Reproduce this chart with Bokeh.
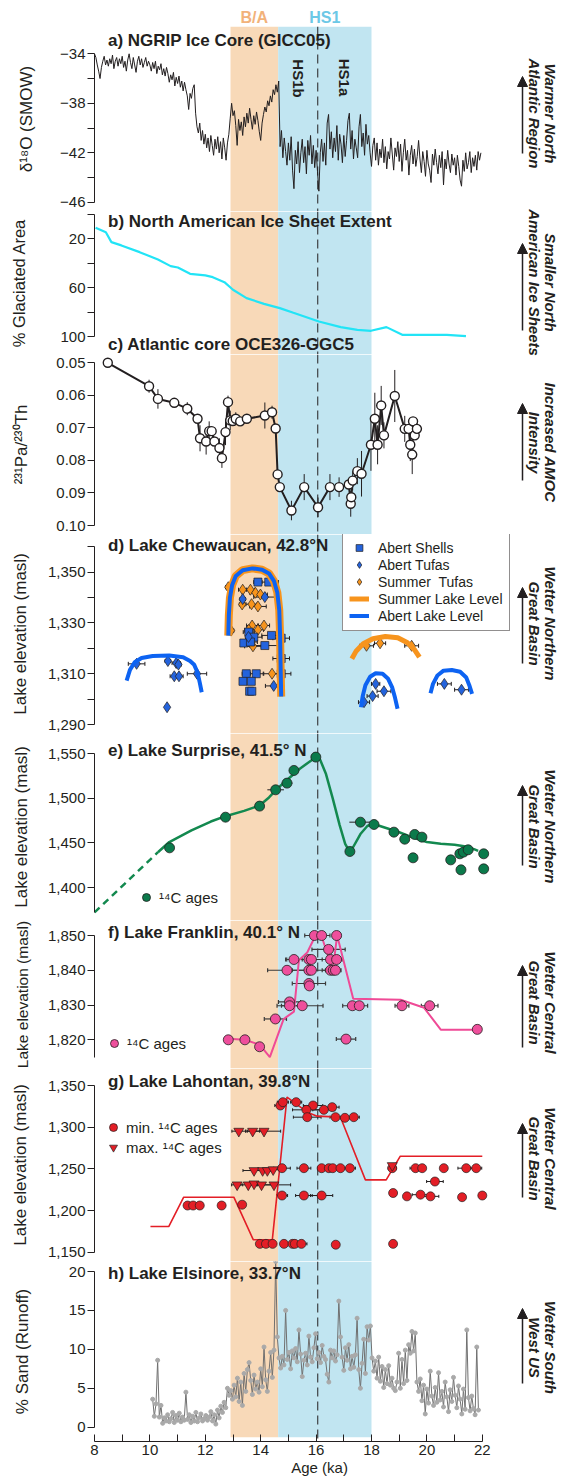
import math
from bokeh.plotting import figure
from bokeh.models import (Range1d, FixedTicker, NumeralTickFormatter, BoxAnnotation, Span,
                          Whisker, TeeHead, ColumnDataSource, Legend, LegendItem, Arrow, NormalHead)
from bokeh.layouts import column, row
from bokeh.embed import file_html
from bokeh.resources import INLINE
from bokeh.core.properties import value

# ======================= DATA =======================
BA_START, BA_END = 12.91, 14.63
HS1_START, HS1_END = 14.63, 18.0
HS1_SPLIT = 16.06

# a) NGRIP d18O, regular 0.05 ka sampling from 8.0 ka
ngrip_start, ngrip_step = 8.0, 0.05
ngrip_d18o = [
    -34.0, -34.3, -34.9, -35.4, -36.0, -35.1, -34.6, -34.2, -34.9, -34.5,
    -35.0, -34.4, -34.8, -34.1, -35.2, -34.6, -34.3, -35.0, -34.4, -34.8,
    -34.2, -35.1, -34.6, -35.4, -34.5, -34.0, -34.7, -35.2, -34.3, -34.9,
    -35.5, -34.6, -34.2, -34.9, -34.4, -35.1, -34.7, -34.3, -35.0, -34.6,
    -34.9, -35.4, -34.7, -35.2, -34.6, -35.6, -35.0, -35.3, -34.8, -35.7,
    -35.2, -35.8, -35.1, -35.6, -36.3, -35.7, -36.1, -35.5, -36.6, -35.9,
    -36.4, -35.8, -36.7, -36.2, -37.0, -36.3, -36.9, -37.4, -38.5, -37.2,
    -37.6, -36.8, -36.5, -38.8, -39.9, -40.4, -39.6, -41.0, -40.2, -41.3,
    -40.5, -41.6, -40.8, -41.9, -40.6, -41.4, -42.2, -40.9, -41.7, -40.7,
    -42.0, -41.1, -42.5, -40.8, -41.6, -42.6, -41.2, -40.5, -39.2, -38.0,
    -39.0, -38.6, -39.8, -41.4, -39.3, -40.2, -39.5, -40.6, -39.1, -39.9,
    -38.8, -39.6, -38.4, -39.3, -40.1, -39.0, -39.7, -38.7, -39.4, -40.3,
    -41.0, -39.6, -38.9, -38.3, -38.7, -37.8, -38.2, -37.4, -37.9, -36.9,
    -37.3, -36.5, -37.1, -36.2, -41.5, -40.2, -42.4, -40.8, -41.9, -43.0,
    -41.2, -42.6, -40.7, -43.4, -44.9, -41.8, -42.9, -41.1, -43.6, -42.0,
    -40.9, -42.8, -41.5, -43.7, -41.0, -42.2, -40.6, -42.9, -41.4, -43.2,
    -41.8, -43.5, -45.1, -42.0, -40.9, -42.7, -41.2, -43.0, -39.6, -38.9,
    -41.7, -40.3, -42.4, -40.8, -41.9, -39.8, -42.6, -40.5, -41.3, -42.8,
    -40.6, -42.3, -41.0, -39.4, -38.8, -41.7, -40.2, -42.5, -40.9, -41.6,
    -42.4, -39.9, -38.9, -41.5, -40.4, -42.2, -39.7, -41.3, -40.6, -42.0,
    -43.1, -41.4, -40.8, -42.6, -41.2, -43.0, -41.7, -42.4, -40.9, -42.8,
    -41.5, -43.3, -41.9, -42.5, -40.8, -42.1, -43.4, -41.6, -42.3, -41.1,
    -42.7, -41.3, -43.5, -42.0, -40.9, -42.6, -41.8, -43.8, -42.2, -41.4,
    -42.9, -41.7, -43.1, -42.3, -41.0, -42.5, -43.6, -41.9, -42.7, -43.9,
    -41.8, -42.9, -43.4, -44.4, -42.1, -43.0, -41.7, -42.8, -43.7, -42.2,
    -43.2, -41.9, -44.6, -42.5, -43.3, -41.8, -42.9, -43.6, -42.1, -43.0,
    -42.4, -43.8, -42.2, -43.1, -44.2, -44.7, -42.6, -43.5, -42.0, -43.3,
    -42.8, -41.9, -43.6, -42.4, -43.1, -42.2, -43.4, -41.9, -42.6, -42.0]

# b) North American ice sheet extent (% glaciated area)
ice_age = [8.04, 8.41, 8.61, 8.97, 9.63, 10.29, 10.75, 11.01, 11.45, 12.0, 12.27, 12.69, 13.0,
           13.49, 14.12, 14.69, 15.18, 16.1, 16.89, 17.49, 17.98, 18.54, 19.11, 20.06, 20.72, 21.41]
ice_area = [11.0, 14.6, 22.7, 25.4, 30.9, 36.9, 42.3, 43.4, 48.6, 49.9, 51.3, 55.4, 61.6,
            68.4, 73.1, 76.6, 80.4, 87.5, 92.1, 94.3, 95.1, 92.1, 98.4, 98.4, 98.4, 99.5]

# c) 231Pa/230Th, OCE326-GGC5
pa_age = [8.48, 9.97, 10.29, 10.88, 11.35, 11.72, 11.81, 12.03, 12.14, 12.23, 12.33, 12.51, 12.6,
          12.73, 12.82, 12.9, 12.99, 13.1, 13.26, 13.5, 14.15, 14.41, 14.54, 14.61, 14.69, 15.11,
          15.57, 16.07, 16.5, 16.83, 17.18, 17.25, 17.27, 17.32, 17.49, 17.64, 17.98, 18.12, 18.22,
          18.35, 18.45, 18.84, 19.2, 19.34, 19.4, 19.47, 19.5, 19.56, 19.64]
pa_ratio = [0.0500, 0.0572, 0.0611, 0.0623, 0.0641, 0.0672, 0.0732, 0.0742, 0.0710, 0.0710, 0.0742,
            0.0762, 0.0793, 0.0713, 0.0621, 0.0677, 0.0679, 0.0672, 0.0680, 0.0672, 0.0662, 0.0652,
            0.0702, 0.0843, 0.0882, 0.0954, 0.0882, 0.0944, 0.0882, 0.0882, 0.0874, 0.0933, 0.0913,
            0.0862, 0.0833, 0.0841, 0.0752, 0.0672, 0.0752, 0.0631, 0.0723, 0.0602, 0.0703, 0.0703,
            0.0752, 0.0782, 0.0680, 0.0723, 0.0703]
pa_err = [0, 0.002, 0.003, 0, 0.002, 0, 0.004, 0.004, 0.003, 0, 0, 0.003, 0.003, 0.004, 0.002, 0.003,
          0, 0.002, 0, 0, 0.004, 0.002, 0, 0, 0, 0.003, 0.004, 0.003, 0.004, 0.003, 0, 0.004, 0,
          0.003, 0.004, 0.007, 0.008, 0.008, 0.006, 0.006, 0.004, 0.008, 0.004, 0, 0.005, 0.006, 0,
          0, 0.003]

# d) Lake Chewaucan
shell_age = [13.9, 14.29, 13.57, 13.75, 14.39, 13.39, 13.63, 14.15, 13.48, 13.84, 13.36, 13.66,
             13.6, 13.68, 14.74, 14.74, 14.74]
shell_elev = [1346.1, 1346.1, 1326.4, 1324.4, 1325.1, 1322.1, 1322.5, 1321.1, 1310, 1310, 1307,
              1307, 1303.1, 1303.1, 1316, 1324, 1310]
shell_err = [0.15, 0.35, 0.2, 0.3, 0.35, 0.1, 0.25, 0.55, 0.15, 0.25, 0.1, 0.1, 0.1, 0.1, 0.3, 0.3, 0.35]

abert_tufa_age = [9.52, 10.65, 10.95, 11.03, 10.88, 11.05, 11.7, 10.62, 13.35, 14.15, 13.56, 14.47,
                  17.73, 18.04, 18.15, 18.45, 20.63, 21.25]
abert_tufa_elev = [1313.9, 1315, 1314.2, 1313.6, 1309, 1309, 1310, 1296.8, 1339.4, 1340.2, 1324.5,
                   1305.2, 1298.8, 1301.2, 1306, 1303.1, 1306, 1303.7]
abert_tufa_err = [0.3, 0.1, 0.15, 0.1, 0.15, 0.15, 0.35, 0, 0.1, 0.4, 0.1, 0.3, 0.2, 0.2, 0.15, 0.25,
                  0.25, 0.25]

summer_tufa_age = [12.83, 13.35, 13.63, 13.81, 13.99, 13.33, 13.67, 13.9, 13.69, 14.12, 13.9, 12.93,
                   13.57, 13.72, 14.41, 17.82, 18.31, 19.45]
summer_tufa_elev = [1344.1, 1343.1, 1343.1, 1341.9, 1341.2, 1337.3, 1337.4, 1336.5, 1329, 1329,
                    1327.3, 1327, 1327.3, 1320.8, 1310, 1321, 1322, 1321]
summer_tufa_err = [0.1, 0.15, 0.15, 0.2, 0.25, 0.1, 0.2, 0.3, 0.2, 0.2, 0.2, 0.1, 0.15, 0.3, 0.3,
                   0.25, 0.2, 0.25]

abert_level_age = [
    [9.16, 9.28, 9.45, 9.7, 10.1, 10.7, 11.2, 11.45, 11.6, 11.72, 11.8, 11.87],
    [12.83, 12.85, 12.89, 12.97, 13.1, 13.35, 13.7, 14.05, 14.3, 14.48, 14.6, 14.67, 14.7, 14.72, 14.74],
    [17.62, 17.68, 17.78, 17.95, 18.15, 18.4, 18.6, 18.75, 18.85, 18.94],
    [20.13, 20.22, 20.38, 20.6, 20.9, 21.2, 21.42, 21.53, 21.63]]
abert_level_elev = [
    [1307.3, 1311.5, 1314.5, 1316.2, 1317, 1317.2, 1316.5, 1315, 1313.5, 1310.5, 1306.5, 1302.7],
    [1325, 1333, 1340, 1345, 1348.5, 1350.8, 1351.5, 1351, 1349.5, 1346.5, 1342, 1335, 1325, 1312, 1301],
    [1296.8, 1301, 1305.5, 1308.8, 1310.2, 1310, 1308, 1304.5, 1300.5, 1296.2],
    [1302.3, 1306, 1309.3, 1311.2, 1311.5, 1310.8, 1308.5, 1305.5, 1302.1]]

summer_level_age = [
    [12.83, 12.85, 12.89, 12.97, 13.1, 13.35, 13.7, 14.05, 14.3, 14.48, 14.6, 14.67, 14.7, 14.72, 14.74],
    [17.29, 17.45, 17.7, 18.05, 18.5, 18.95, 19.3, 19.55, 19.73]]
summer_level_elev = [
    [1325, 1333, 1340, 1345, 1348.5, 1350.8, 1351.5, 1351, 1349.5, 1346.5, 1342, 1335, 1325, 1312, 1301],
    [1315.9, 1319, 1321.8, 1323.8, 1324.7, 1324.2, 1322.2, 1319.5, 1316.5]]

# e) Lake Surprise
surprise_age = [10.71, 12.73, 13.96, 14.54, 14.95, 15.2, 15.99, 17.22, 17.6, 18.09, 18.81, 19.2,
                19.56, 19.82, 19.5, 20.86, 21.19, 21.32, 21.49, 21.23, 22.05, 22.05]
surprise_elev = [1444.5, 1478.9, 1491.3, 1509.6, 1517.1, 1531.3, 1546.3, 1440.4, 1473.3, 1470.7,
                 1462.1, 1454.2, 1459.5, 1456.5, 1433.3, 1431, 1437.8, 1439.7, 1442.3, 1419.8,
                 1437.8, 1420.9]
surprise_err = [0, 0, 0, 0.3, 0.2, 0.1, 0, 0, 0.4, 0, 0, 0.15, 0.1, 0, 0.15, 0.15, 0.1, 0, 0.2, 0, 0, 0]
surprise_line_age = [10.29, 10.7, 11.5, 12.2, 12.73, 13.4, 13.96, 14.3, 14.6, 15.0, 15.4, 15.8, 16.0,
                     16.15, 16.35, 16.6, 16.85, 17.05, 17.2, 17.35, 17.6, 17.85, 18.05, 18.5, 19.0,
                     19.5, 20.0, 20.5, 21.0, 21.4, 21.7, 21.85]
surprise_line_elev = [1439.6, 1451, 1464, 1474, 1480, 1486, 1492, 1501, 1511, 1522, 1533, 1542,
                      1546.5, 1543, 1528, 1500, 1470, 1449, 1440.5, 1446, 1460, 1469, 1471.5, 1467,
                      1462, 1456, 1451, 1449, 1448, 1446, 1443, 1441]
surprise_dash_age = [8.0, 10.29]
surprise_dash_elev = [1372, 1439.6]

# f) Lake Franklin
franklin_age = [15.94, 16.2, 16.74, 16.45, 15.2, 15.74, 15.83, 16.52, 16.74, 14.95, 15.74, 15.83,
                16.52, 16.62, 16.7, 15.74, 15.76, 15.04, 15.04, 15.5, 17.31, 17.56, 19.1, 20.1,
                14.53, 12.83, 13.43, 13.96, 17.08, 21.82]
franklin_elev = [1850, 1850, 1850, 1846, 1843.1, 1843.1, 1843.1, 1843.1, 1843.1, 1840, 1840, 1840,
                 1840, 1840, 1840, 1836.2, 1835.5, 1830.9, 1829.8, 1829.8, 1829.8, 1829.8, 1829.8,
                 1829.8, 1826, 1820, 1820, 1818, 1820.2, 1823]
franklin_err = [0.35, 0.3, 0.15, 0.6, 0.3, 0.8, 0, 0.3, 0.2, 0.7, 0.6, 0, 0.3, 0, 0.2, 0.6, 0, 0.4,
                0.45, 0.75, 0.35, 0.3, 0.25, 0.3, 0.4, 0, 0, 0, 0.35, 0]
franklin_line_age = [12.83, 13.43, 13.96, 14.33, 14.83, 15.2, 15.38, 15.68, 15.98, 16.19, 16.6,
                     16.76, 17.34, 19.05, 19.9, 20.5, 21.82]
franklin_line_elev = [1820.3, 1820, 1818.6, 1815, 1826, 1828.1, 1842.9, 1845.1, 1850, 1850, 1840,
                      1850, 1831.8, 1831.5, 1829.2, 1822.9, 1822.9]

# g) Lake Lahontan
lah_min_age = [14.71, 14.8, 15.28, 15.89, 16.58, 16.28, 15.65, 15.68, 16.7, 17.04, 17.36,
               14.77, 15.56, 16.2, 16.46, 16.6, 16.88, 17.22, 18.75, 19.59, 19.83, 20.61, 21.42, 21.78,
               20.29, 14.77, 15.56, 16.2, 18.78, 19.28, 19.77, 20.13, 21.27, 22.0,
               11.36, 11.56, 11.8, 12.59, 13.33,
               13.97, 14.19, 14.43, 14.84, 15.15, 15.23, 15.47, 16.71, 18.78]
lah_min_elev = [1326, 1330, 1330, 1326, 1324, 1320.8, 1320.8, 1312, 1312, 1311.2, 1312,
                1250.8, 1250.8, 1250.8, 1250.8, 1250.8, 1250.8, 1250.8, 1250.8, 1250.8, 1250.8,
                1250.8, 1250.8, 1250.8,
                1234.8, 1218, 1218, 1218, 1221, 1217, 1219, 1217, 1216, 1218,
                1206, 1206, 1206, 1206, 1207,
                1160, 1160, 1160, 1160, 1160, 1160, 1160, 1159, 1160]
lah_min_err = [0.2, 0.2, 0.2, 0.35, 0.25, 0.4, 0.5, 0.5, 0.2, 0.15, 0.2,
               0.3, 0.25, 0.15, 0.1, 0.1, 0.1, 0.2, 0.15, 0.2, 0.1, 0.1, 0.3, 0.2,
               0.3, 0.2, 0.3, 0.4, 0, 0, 0.3, 0.3, 0.1, 0,
               0, 0, 0, 0, 0,
               0, 0, 0, 0, 0, 0, 0.2, 0.1, 0.1]
lah_max_age = [13.21, 13.71, 14.12, 13.76, 14.07, 14.24, 14.45, 18.75, 13.15, 13.55, 13.76, 14.03, 14.48]
lah_max_elev = [1295.2, 1295.2, 1295.2, 1248, 1248, 1248, 1249, 1254, 1230.8, 1230.8, 1232, 1230.8, 1230.8]
lah_max_err = [0.25, 0.25, 0.6, 0.4, 0.3, 0.2, 0.2, 0, 0.2, 0.3, 0.2, 0.5, 0.6]
lah_line_age = [10.02, 10.68, 11.22, 13.03, 13.73, 14.42, 14.95, 15.68, 16.04, 16.88, 17.78, 18.53,
                19.04, 22.0]
lah_line_elev = [1180.8, 1180.8, 1216, 1216, 1165, 1165, 1336, 1318, 1313.2, 1312, 1236.8, 1236.8,
                 1265.2, 1265.2]

# h) Lake Elsinore % sand, regular 0.06 ka sampling from 10.10 ka
sand_start, sand_step = 10.10, 0.06
sand_pct = [
    3.6, 1.4, 3.0, 8.6, 1.3, 2.8, 0.5, 1.2, 0.8, 1.6,
    0.7, 1.1, 1.9, 0.6, 1.5, 0.9, 1.8, 0.7, 1.3, 0.9,
    4.5, 1.0, 1.6, 0.6, 1.4, 0.8, 1.9, 0.7, 1.2, 1.7,
    0.8, 1.1, 1.5, 0.9, 1.3, 2.0, 0.8, 1.6, 0.4, 2.2,
    1.2, 2.7, 1.9, 3.2, 2.5, 5.0, 4.1, 4.7, 3.6, 5.4,
    3.9, 6.3, 3.3, 5.8, 2.8, 6.9, 4.6, 7.4, 8.3, 6.0,
    4.2, 6.7, 4.9, 5.8, 4.5, 7.5, 5.2, 10.3, 6.1, 4.6,
    7.2, 9.6, 6.4, 9.9, 21.3, 11.6, 8.9, 7.6, 9.1, 8.0,
    15.0, 8.7, 9.6, 7.5, 9.8, 8.9, 10.1, 8.4, 12.5, 9.4,
    6.5, 8.6, 9.5, 8.0, 11.7, 9.0, 8.4, 10.2, 12.0, 8.8,
    9.6, 8.3, 10.5, 9.1, 8.7, 6.8, 5.8, 9.9, 8.9, 9.8,
    8.5, 9.3, 16.2, 11.6, 9.0, 7.3, 10.2, 8.6, 10.6, 7.5,
    9.1, 7.7, 9.3, 14.0, 7.4, 5.0, 8.2, 11.3, 6.9, 12.9,
    11.2, 13.0, 8.9, 7.2, 8.5, 6.3, 9.0, 5.9, 7.8, 5.1,
    7.4, 5.6, 7.9, 5.4, 6.3, 5.0, 4.7, 5.8, 9.5, 5.0,
    8.7, 5.6, 9.9, 6.0, 10.6, 9.5, 12.3, 9.8, 12.1, 5.8,
    4.6, 6.2, 3.4, 5.4, 1.7, 4.9, 3.1, 7.2, 4.0, 2.8,
    5.1, 3.2, 7.0, 3.5, 4.6, 2.6, 5.8, 3.9, 2.0, 4.8,
    3.3, 6.4, 4.1, 2.5, 5.3, 3.6, 1.7, 4.9, 2.3, 12.5,
    3.8, 2.1, 4.0, 2.4, 1.6, 10.3, 2.2]

x_major_ticks = [8, 10, 12, 14, 16, 18, 20, 22]
x_minor_ticks = [9, 11, 13, 15, 17, 19, 21]

right_line1 = ["Warmer North", "Smaller North", "Increased AMOC", "Wetter Northern",
               "Wetter Northern", "Wetter Central", "Wetter Central", "Wetter South"]
right_line2 = ["Atlantic Region", "American Ice Sheets", "Intensity", "Great Basin",
               "Great Basin", "Great Basin", "Great Basin", "West US"]

# ======================= STYLE / LAYOUT =======================
FONT = "Liberation Sans"
INK = "#231f20"
BA_FILL = "#f8d9b8"
HS1_FILL = "#c1e5f1"
BLUE_PT = "#2463dc"
BLUE_LINE = "#0d63f2"
ORANGE = "#f7941d"
GREEN = "#0b7a4b"
GREEN_LINE = "#13894f"
PINK = "#ee4f9c"
PINK_LINE = "#ef4a96"
RED = "#e31e26"
CYAN = "#22e4f6"

COL_W, RIGHT_W, LEFT = 515, 56, 94
PAGE_TOP, PAGE_BOTTOM = 0, 1479
PX_PER_KA = 27.7
xr = Range1d(8.0, 8.0 + (COL_W - LEFT) / PX_PER_KA)
TITLE_X = 8.0 + 13.5 / PX_PER_KA


def base_fig(height, y_range, bottom_border=0, xaxis=False, yaxis=True):
    fig = figure(width=COL_W, height=height, x_range=xr, y_range=y_range,
                 output_backend="svg", toolbar_location=None,
                 min_border_left=LEFT, min_border_right=0, min_border_top=0,
                 min_border_bottom=bottom_border,
                 x_axis_location="below" if xaxis else None,
                 y_axis_location="left" if yaxis else None)
    fig.outline_line_color = None
    fig.grid.visible = False
    fig.background_fill_color = "white"
    fig.border_fill_color = "white"
    return fig


def make_panel(top, bottom, ref, bottom_border=0, xaxis=False):
    v1, p1, v2, p2 = ref
    slope = (v2 - v1) / (p2 - p1)

    def yv(p):
        return v1 + (p - p1) * slope
    fig = base_fig(bottom - top + bottom_border, Range1d(yv(bottom), yv(top)), bottom_border, xaxis)
    return fig, yv


def style_y(fig, label, ticks, minor, bounds, standoff, fmt=None, overrides=None, label_size="17px"):
    ax = fig.yaxis[0]
    ax.axis_label = label
    ax.ticker = FixedTicker(ticks=ticks, minor_ticks=minor)
    ax.bounds = bounds
    if fmt:
        ax.formatter = NumeralTickFormatter(format=fmt)
    if overrides:
        ax.major_label_overrides = overrides
    ax.major_tick_in = 0
    ax.major_tick_out = 7
    ax.minor_tick_in = 0
    ax.minor_tick_out = 7
    ax.axis_line_color = INK
    ax.major_tick_line_color = INK
    ax.minor_tick_line_color = INK
    ax.major_label_text_font = FONT
    ax.major_label_text_font_size = "15px"
    ax.major_label_text_color = INK
    ax.major_label_standoff = 2
    ax.axis_label_text_font = FONT
    ax.axis_label_text_font_size = label_size
    ax.axis_label_text_font_style = "normal"
    ax.axis_label_text_color = INK
    ax.axis_label_standoff = standoff


def add_bands(fig, bottom=None):
    for l, r, c in ((BA_START, BA_END, BA_FILL), (HS1_START, HS1_END, HS1_FILL)):
        kw = dict(left=l, right=r, fill_color=c, fill_alpha=1.0, line_alpha=0, level="underlay")
        if bottom is not None:
            kw["bottom"] = bottom
        fig.add_layout(BoxAnnotation(**kw))
    fig.add_layout(Span(location=HS1_SPLIT, dimension="height", line_color=INK, line_width=1,
                        line_dash="9 5", level="underlay"))


def add_title(fig, yv, text, ypage):
    fig.text(x=[TITLE_X], y=[yv(ypage)], text=[text], text_font=value(FONT),
             text_font_style="bold", text_font_size="17px", text_color=INK,
             text_align="left", text_baseline="middle")


def whiskers(fig, pos, base, err, dim, color=INK, width=1.0, head=4):
    b, lo, hi = [], [], []
    for p_, b_, e_ in zip(pos, base, err):
        if e_ > 0:
            b.append(b_)
            lo.append(p_ - e_)
            hi.append(p_ + e_)
    src = ColumnDataSource(dict(base=b, lower=lo, upper=hi))
    fig.add_layout(Whisker(source=src, base="base", lower="lower", upper="upper", dimension=dim,
                           line_color=color, line_width=width,
                           upper_head=TeeHead(size=head, line_color=color, line_width=width),
                           lower_head=TeeHead(size=head, line_color=color, line_width=width),
                           level="underlay"))


def plain_legend(fig, items, loc, size="15px"):
    leg = Legend(items=items, location=loc, padding=0, spacing=0, margin=0,
                 glyph_width=20, glyph_height=20, label_height=20, label_standoff=3,
                 label_text_font=FONT, label_text_font_size=size, label_text_color=INK,
                 border_line_alpha=0, background_fill_alpha=0)
    fig.add_layout(leg)


# ---- top strip with period labels
strip = base_fig(26, Range1d(26, 0), yaxis=False)
strip.text(x=[(BA_START + BA_END) / 2, (HS1_START + HS1_END) / 2], y=[16.5, 16.5], text=["B/A", "HS1"],
           text_color=["#f2b27a", "#6cc8e6"], text_font=value(FONT), text_font_style="bold",
           text_font_size="16px", text_align="center", text_baseline="middle")

# ---- a) NGRIP
pa, ya = make_panel(26, 211, (-34, 53.3, -46, 201.8))
add_bands(pa)
ngrip_age = [round(ngrip_start + i * ngrip_step, 3) for i in range(len(ngrip_d18o))]
pa.line(ngrip_age, ngrip_d18o, line_color=INK, line_width=1)
add_title(pa, ya, "a) NGRIP Ice Core (GICC05)", 40)
pa.text(x=[15.35, 17.03], y=[ya(78), ya(77)], text=["HS1b", "HS1a"], angle=-math.pi / 2,
        text_font=value(FONT), text_font_style="bold", text_font_size="15px", text_color=INK,
        text_align="center", text_baseline="middle")
style_y(pa, "\u03b4\u00b9\u2078O (SMOW)", [-46, -42, -38, -34], [-44, -40, -36], (-46, -34), 21,
        overrides={-34: "\u221234", -38: "\u221238", -42: "\u221242", -46: "\u221246"})

# ---- b) ice sheet (its figure also carries the title of panel c)
pb, yb = make_panel(211, 354, (20, 238.3, 100, 336.3))
add_bands(pb)
pb.line(ice_age, ice_area, line_color=CYAN, line_width=2.2)
add_title(pb, yb, "b) North American Ice Sheet Extent", 220.5)
add_title(pb, yb, "c) Atlantic core OCE326-GGC5", 344)
style_y(pb, "% Glaciated Area", [20, 60, 100], [0, 40, 80], (0, 100), 29, label_size="16.5px")

# ---- c) Pa/Th
pc, yc = make_panel(354, 534, (0.05, 362.3, 0.10, 525))
add_bands(pc)
whiskers(pc, pa_ratio, pa_age, pa_err, "height", head=0)
pc.line(pa_age, pa_ratio, line_color=INK, line_width=2)
pc.scatter(pa_age, pa_ratio, marker="circle", size=9, fill_color="white", line_color=INK, line_width=1.4)
style_y(pc, "\u00b2\u00b3\u00b9Pa/\u00b2\u00b3\u2070Th", [0.05, 0.06, 0.07, 0.08, 0.09, 0.10], [],
        (0.05, 0.10), 22, fmt="0.00")

# ---- d) Lake Chewaucan
pd_, yd = make_panel(534, 733, (1350, 571.7, 1290, 724))
add_bands(pd_)
whiskers(pd_, shell_age, shell_elev, shell_err, "width", head=4)
whiskers(pd_, abert_tufa_age, abert_tufa_elev, abert_tufa_err, "width", head=4)
whiskers(pd_, summer_tufa_age, summer_tufa_elev, summer_tufa_err, "width", head=4)
r_summer_t = pd_.scatter(summer_tufa_age, summer_tufa_elev, marker="diamond", size=11,
                         fill_color=ORANGE, line_color=INK, line_width=0.7)
r_shell = pd_.scatter(shell_age, shell_elev, marker="square", size=8, fill_color=BLUE_PT,
                      line_color=INK, line_width=0.7)
r_abert_t = pd_.scatter(abert_tufa_age, abert_tufa_elev, marker="diamond", size=11,
                        fill_color=BLUE_PT, line_color=INK, line_width=0.7)
r_summer_l = pd_.multi_line(xs="xs", ys="ys", line_width="w", line_color=ORANGE,
                            source=ColumnDataSource(dict(xs=summer_level_age, ys=summer_level_elev,
                                                         w=[8, 5])))
r_abert_l = pd_.multi_line(abert_level_age, abert_level_elev, line_color=BLUE_LINE, line_width=4)
add_title(pd_, yd, "d) Lake Chewaucan, 42.8\u00b0N", 545)
style_y(pd_, "Lake elevation (masl)", [1290, 1310, 1330, 1350], [1300, 1320, 1340, 1360],
        (1290, 1360), 15, fmt="0,0")
legend_d = Legend(items=[LegendItem(label="Abert Shells", renderers=[r_shell]),
                         LegendItem(label="Abert Tufas", renderers=[r_abert_t]),
                         LegendItem(label="Summer\u00a0 Tufas", renderers=[r_summer_t]),
                         LegendItem(label="Summer Lake Level", renderers=[r_summer_l], index=1),
                         LegendItem(label="Abert Lake Level", renderers=[r_abert_l])],
                  location=(248, 102), padding=6, spacing=0, margin=0, glyph_width=20,
                  glyph_height=17, label_height=17, label_standoff=9, label_text_font=FONT,
                  label_text_font_size="14px", label_text_color=INK, border_line_color=INK,
                  border_line_width=1, background_fill_color="white", background_fill_alpha=1)
pd_.add_layout(legend_d)

# ---- e) Lake Surprise
pe, ye = make_panel(733, 920, (1550, 753.3, 1400, 887))
add_bands(pe)
whiskers(pe, surprise_age, surprise_elev, surprise_err, "width", head=0)
pe.line(surprise_line_age, surprise_line_elev, line_color=GREEN_LINE, line_width=2.5)
pe.line(surprise_dash_age, surprise_dash_elev, line_color=GREEN_LINE, line_width=2.5, line_dash="7 5")
r_e = pe.scatter(surprise_age, surprise_elev, marker="circle", size=10, fill_color=GREEN,
                 line_color=INK, line_width=0.8)
add_title(pe, ye, "e) Lake Surprise, 41.5\u00b0 N", 750)
style_y(pe, "Lake elevation (masl)", [1400, 1450, 1500, 1550], [], (1372, 1550), 14, fmt="0,0")
plain_legend(pe, [LegendItem(label="\u00b9\u2074C ages", renderers=[r_e])], (42, 13))

# ---- f) Lake Franklin
pf, yf = make_panel(920, 1068, (1850, 935, 1820, 1039.3))
add_bands(pf)
whiskers(pf, franklin_age, franklin_elev, franklin_err, "width", color="#3a3a3a", width=1.2, head=4)
pf.line(franklin_line_age, franklin_line_elev, line_color=PINK_LINE, line_width=2)
r_f = pf.scatter(franklin_age, franklin_elev, marker="circle", size=10, fill_color=PINK,
                 line_color=INK, line_width=0.8)
add_title(pf, yf, "f) Lake Franklin, 40.1\u00b0 N", 932)
style_y(pf, "Lake elevation (masl)", [1820, 1830, 1840, 1850], [], (1815, 1850), 14, fmt="0,0",
        label_size="15.5px")
plain_legend(pf, [LegendItem(label="\u00b9\u2074C ages", renderers=[r_f])], (10, 15))

# ---- g) Lake Lahontan
pg, yg = make_panel(1068, 1261, (1350, 1085, 1150, 1251.7))
add_bands(pg)
whiskers(pg, lah_min_age, lah_min_elev, lah_min_err, "width", head=3)
whiskers(pg, lah_max_age, lah_max_elev, lah_max_err, "width", head=3)
pg.line(lah_line_age, lah_line_elev, line_color=RED, line_width=1.6)
r_gmin = pg.scatter(lah_min_age, lah_min_elev, marker="circle", size=9, fill_color=RED,
                    line_color=INK, line_width=0.7)
r_gmax = pg.scatter(lah_max_age, lah_max_elev, marker="inverted_triangle", size=10, fill_color=RED,
                    line_color=INK, line_width=0.7)
add_title(pg, yg, "g) Lake Lahontan, 39.8\u00b0N", 1081)
style_y(pg, "Lake elevation (masl)", [1150, 1200, 1250, 1300, 1350], [], (1150, 1350), 15, fmt="0,0")
plain_legend(pg, [LegendItem(label="min. \u00b9\u2074C ages", renderers=[r_gmin]),
                  LegendItem(label="max. \u00b9\u2074C ages", renderers=[r_gmax])], (9, 104))

# ---- h) Lake Elsinore
ph, yh = make_panel(1261, 1441, (20, 1271, 0, 1426.7), bottom_border=38, xaxis=True)
add_bands(ph, bottom=yh(1436.7))
sand_age = [round(sand_start + i * sand_step, 3) for i in range(len(sand_pct))]
ph.line(sand_age, sand_pct, line_color="#707070", line_width=1)
ph.scatter(sand_age, sand_pct, marker="circle", size=4, fill_color="#a9a9a9", line_color="#a9a9a9")
add_title(ph, yh, "h) Lake Elsinore, 33.7\u00b0N", 1273)
style_y(ph, "% Sand (Runoff)", [0, 5, 10, 15, 20], [], (0, 20), 34)
xa = ph.xaxis[0]
xa.bounds = (8, 22)
xa.ticker = FixedTicker(ticks=x_major_ticks, minor_ticks=x_minor_ticks)
xa.major_tick_in = 7
xa.major_tick_out = 0
xa.minor_tick_in = 7
xa.minor_tick_out = 0
xa.axis_line_color = INK
xa.major_tick_line_color = INK
xa.minor_tick_line_color = INK
xa.major_label_standoff = 3
xa.major_label_text_font = FONT
xa.major_label_text_font_size = "15px"
xa.major_label_text_color = INK
xa.axis_label = "\u00a0" * 7 + "Age (ka)"
xa.axis_label_standoff = 1
xa.axis_label_text_font = FONT
xa.axis_label_text_font_size = "15px"
xa.axis_label_text_font_style = "normal"
xa.axis_label_text_color = INK

# ---- right-hand annotation column (page coordinates)
TOTAL_H = PAGE_BOTTOM - PAGE_TOP
rf = figure(width=RIGHT_W, height=TOTAL_H, x_range=Range1d(COL_W, COL_W + RIGHT_W),
            y_range=Range1d(PAGE_BOTTOM, PAGE_TOP), output_backend="svg", toolbar_location=None,
            min_border=0, x_axis_location=None, y_axis_location=None)
rf.outline_line_color = None
rf.grid.visible = False
ann_center = [113, 282, 442, 623, 826, 1002, 1158, 1347]
ann_tail = [153, 330, 480, 663, 865, 1047, 1197, 1383]
ann_tip = [76, 243, 403, 587, 785, 965, 1123, 1308]
for t0, t1 in zip(ann_tail, ann_tip):
    rf.add_layout(Arrow(end=NormalHead(size=10, fill_color=INK, line_color=INK),
                        x_start=522, y_start=t0, x_end=522, y_end=t1,
                        line_color=INK, line_width=1.5))
for xpos, lines in ((550, right_line1), (534, right_line2)):
    rf.text(x=[xpos] * len(lines), y=ann_center, text=lines, angle=-math.pi / 2,
            text_font=value(FONT), text_font_style="bold italic", text_font_size="15px",
            text_color=INK, text_align="center", text_baseline="middle")

layout = row(column(strip, pa, pb, pc, pd_, pe, pf, pg, ph), rf)
open("out.html", "w").write(file_html(layout, INLINE))
